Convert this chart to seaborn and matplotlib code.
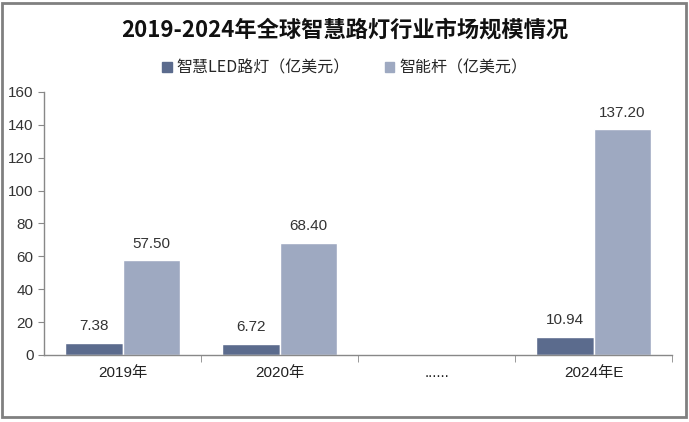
import numpy as np
import pandas as pd
import matplotlib
matplotlib.use("Agg")
import matplotlib.pyplot as plt
import seaborn as sns
from matplotlib.patches import Rectangle

categories = ["2019年", "2020年", "......", "2024年E"]
led_values = [7.38, 6.72, np.nan, 10.94]
pole_values = [57.50, 68.40, np.nan, 137.20]
series_names = ["智慧LED路灯（亿美元）", "智能杆（亿美元）"]
y_ticks = [0, 20, 40, 60, 80, 100, 120, 140, 160]

df = pd.DataFrame({
    "year": categories * 2,
    "value": led_values + pole_values,
    "series": [series_names[0]] * 4 + [series_names[1]] * 4,
})

sns.set_style("white")
plt.rcParams['font.family'] = ['Liberation Sans', 'Noto Sans CJK SC', 'DejaVu Sans']

fig = plt.figure(figsize=(6.89, 4.22), dpi=100)
ax = fig.add_axes([44 / 689, 1 - 355 / 422, 628 / 689, 263 / 422])

palette = {series_names[0]: "#5b6b8d", series_names[1]: "#9ea9c1"}
sns.barplot(data=df, x="year", y="value", hue="series", palette=palette,
            width=0.73, ax=ax, legend=False, saturation=1)

# value labels
for cont in ax.containers:
    labels = ["" if np.isnan(v) else f"{v:.2f}" for v in cont.datavalues]
    ax.bar_label(cont, labels=labels, padding=7, fontsize=11, color="#333333")

ax.set_ylim(0, 160)
ax.set_xlim(-0.5, 3.5)
ax.set_yticks(y_ticks)
ax.set_xlabel("")
ax.set_ylabel("")
ax.tick_params(axis="y", labelsize=11, colors="#333333", length=4, color="#888888", left=True)
ax.set_xticks(range(4))
ax.set_xticklabels(categories, fontsize=11, color="#222222")
ax.tick_params(axis="x", length=0, pad=8)
ax.set_xticks([0.5, 1.5, 2.5, 3.5], minor=True)
ax.tick_params(axis="x", which="minor", length=5, color="#888888", bottom=True)

sns.despine(ax=ax, top=True, right=True)
for s in ["left", "bottom"]:
    ax.spines[s].set_color("#888888")
    ax.spines[s].set_linewidth(1)

# title
fig.text(0.5, 1 - 30 / 422, "2019-2024年全球智慧路灯行业市场规模情况",
         ha="center", va="center", fontsize=16, fontweight="bold",
         family=["Noto Sans CJK SC"], color="#111111")

# legend
handles = [Rectangle((0, 0), 1, 1, color=palette[n]) for n in series_names]
fig.legend(handles, series_names, loc="center", bbox_to_anchor=(0.5, 1 - 68 / 422),
           ncol=2, frameon=False, handlelength=0.6, handleheight=0.6,
           columnspacing=2.2, handletextpad=0.3,
           prop={"family": ["Noto Sans CJK SC"], "size": 11.5})

# outer frame
fig.patches.append(Rectangle((2 / 689, 5 / 422), 684 / 689, 414 / 422,
                             transform=fig.transFigure, fill=False,
                             edgecolor="#808080", linewidth=2))

fig.savefig("out.png", dpi=100)
